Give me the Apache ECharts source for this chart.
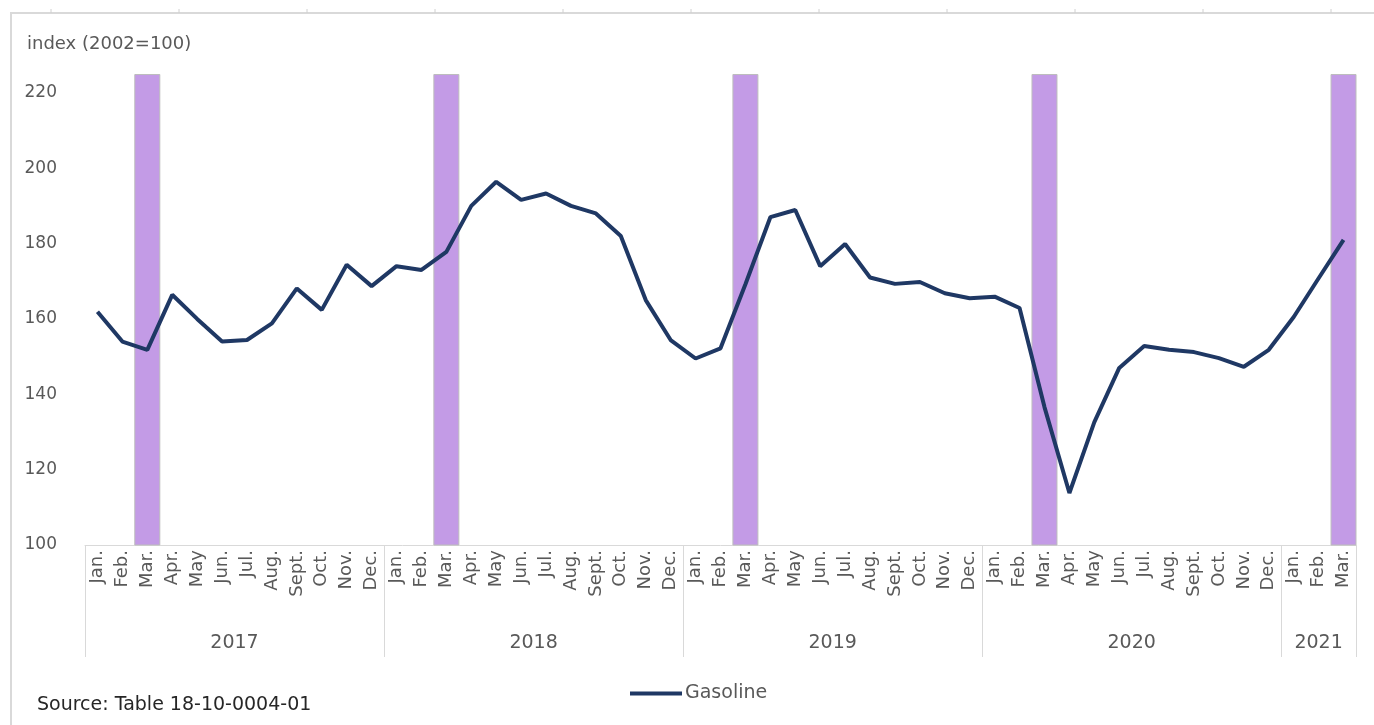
<!DOCTYPE html>
<html>
<head>
<meta charset="utf-8">
<script src="https://cdn.jsdelivr.net/npm/echarts@6/dist/echarts.min.js"></script>
<style>
html,body{margin:0;padding:0;background:#fff;}
#chart{width:1374px;height:725px;}
</style>
</head>
<body>
<div id="chart"></div>
<script>
// ---- data ----
var monthNames = ['Jan.','Feb.','Mar.','Apr.','May','Jun.','Jul.','Aug.','Sept.','Oct.','Nov.','Dec.'];
var years = ['2017','2018','2019','2020','2021'];
var monthsPerYear = [12, 12, 12, 12, 3];
var gasoline2017 = [161.9, 154.0, 151.8, 166.4, 160.0, 154.0, 154.4, 158.8, 168.1, 162.4, 174.4, 168.7];
var gasoline2018 = [174.0, 173.0, 177.8, 190.0, 196.4, 191.6, 193.3, 190.0, 188.0, 182.0, 165.0, 154.4];
var gasoline2019 = [149.5, 152.2, 169.2, 187.0, 188.9, 174.0, 179.9, 171.0, 169.3, 169.8, 166.8, 165.5];
var gasoline2020 = [165.9, 162.9, 136.6, 113.8, 132.6, 147.0, 152.8, 151.8, 151.2, 149.6, 147.3, 151.8];
var gasoline2021 = [160.5, 170.8, 181.0];
var highlightMonth = 'Mar.';
var highlightTop = 225;
var yTicks = [100, 120, 140, 160, 180, 200, 220];

// ---- build ----
var categories = [];
years.forEach(function (y, i) {
  for (var m = 0; m < monthsPerYear[i]; m++) categories.push(monthNames[m]);
});
var gasoline = [].concat(gasoline2017, gasoline2018, gasoline2019, gasoline2020, gasoline2021);
var bars = categories.map(function (c) { return c === highlightMonth ? highlightTop : '-'; });

var yearBounds = [0];
var yearCenters = [];
var acc = 0;
monthsPerYear.forEach(function (n) { yearCenters.push(acc + n / 2); acc += n; yearBounds.push(acc); });

var fontFam = '"DejaVu Sans", sans-serif';
var grey = '#595959';

var frameTicks = [];
for (var k = 0; k < 11; k++) {
  frameTicks.push({type: 'line', shape: {x1: 51 + 128 * k, y1: 9, x2: 51 + 128 * k, y2: 13}, style: {stroke: '#d0d0d0', lineWidth: 1}, silent: true});
}

var chart = echarts.init(document.getElementById('chart'), null, {renderer: 'canvas'});
chart.setOption({
  animation: false,
  textStyle: {fontFamily: fontFam},
  graphic: [{
    type: 'rect', shape: {x: 11, y: 13, width: 1400, height: 800},
    style: {fill: 'none', stroke: '#d9d9d9', lineWidth: 2}, silent: true, z: -10
  }].concat(frameTicks),
  title: [
    {text: 'index (2002=100)', left: 27, top: 35, padding: 0, textStyle: {fontSize: 18, fontWeight: 'normal', color: grey, fontFamily: fontFam}},
    {text: 'Source: Table 18-10-0004-01', left: 37, top: 696, padding: 0, textStyle: {fontSize: 19, fontWeight: 'normal', color: '#262626', fontFamily: fontFam}}
  ],
  legend: {
    data: ['Gasoline'], left: 630, top: 684, padding: 0,
    icon: 'rect', itemWidth: 52, itemHeight: 4, itemGap: 5,
    textStyle: {fontSize: 19, color: grey, fontFamily: fontFam, padding: [0, 0, 0, -2]}
  },
  grid: {left: 85, right: 18, top: 74, bottom: 180, containLabel: false},
  xAxis: [{
    type: 'category', data: categories, boundaryGap: true,
    axisLine: {lineStyle: {color: '#d9d9d9', width: 1}},
    axisTick: {show: false},
    axisLabel: {interval: 0, rotate: 90, fontSize: 18, color: grey, margin: 5, fontFamily: fontFam}
  }, {
    type: 'value', min: 0, max: categories.length, position: 'bottom',
    axisLine: {show: false},
    splitLine: {show: false},
    axisTick: {show: true, customValues: yearBounds, length: 112, lineStyle: {color: '#d9d9d9', width: 1}},
    axisLabel: {
      customValues: yearCenters, margin: 89, fontSize: 19, color: grey, fontFamily: fontFam,
      formatter: function (v) { return years[yearCenters.indexOf(v)] || ''; }
    }
  }],
  yAxis: {
    type: 'value', min: 100, max: highlightTop, interval: 20,
    axisLine: {show: false}, axisTick: {show: false}, splitLine: {show: false},
    axisLabel: {customValues: yTicks, fontSize: 17, color: grey, margin: 28, fontFamily: fontFam}
  },
  series: [{
    name: 'Highlight', type: 'bar', data: bars, xAxisIndex: 0, barWidth: 26,
    itemStyle: {color: '#C39BE6', borderColor: '#BDBDBD', borderWidth: 1},
    z: 1, silent: true
  }, {
    name: 'Gasoline', type: 'line', data: gasoline, xAxisIndex: 0,
    showSymbol: false, symbol: 'none', smooth: false,
    lineStyle: {color: '#1F3864', width: 4},
    itemStyle: {color: '#1F3864'},
    z: 3
  }]
});
</script>
</body>
</html>
